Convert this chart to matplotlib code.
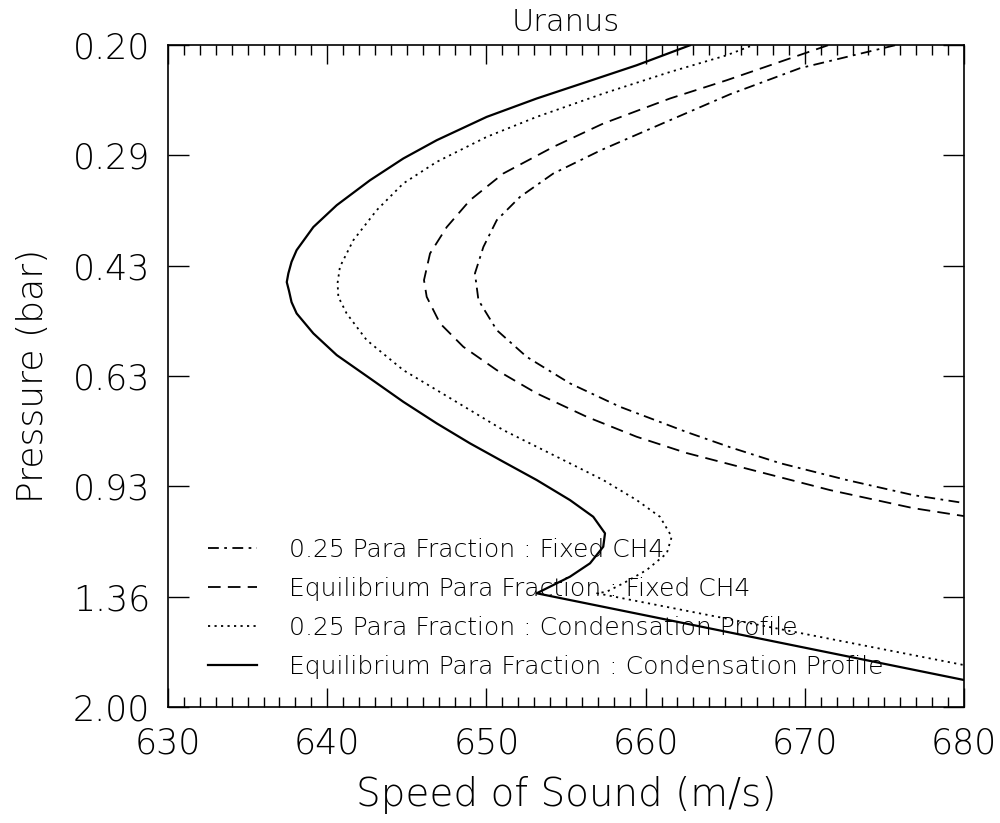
import numpy as np
import matplotlib.pyplot as plt
from matplotlib.ticker import FixedLocator, NullLocator, MultipleLocator

plt.rcParams['font.family'] = ['DejaVu Sans']
plt.rcParams['font.weight'] = 'light'
plt.rcParams['axes.labelweight'] = 'light'
plt.rcParams['axes.titleweight'] = 'light'

# 0.25 para fraction, fixed CH4 (dash-dot)
v_para_ch4 = [675.67, 669.70, 665.30, 661.53, 657.20, 654.20, 652.11, 650.65, 649.81, 649.28,
              649.50, 650.65, 652.53, 655.25, 658.39, 662.58, 665.30, 668.44, 672.65, 676.80, 680.0]
p_para_ch4 = [0.2000, 0.2166, 0.2372, 0.2596, 0.2881, 0.3125, 0.3390, 0.3676, 0.4035, 0.4424,
              0.4855, 0.5389, 0.5914, 0.6487, 0.7037, 0.7684, 0.8100, 0.8562, 0.9081, 0.9568, 0.9836]

# equilibrium para fraction, fixed CH4 (dashed)
v_eq_ch4 = [671.46, 667.63, 665.09, 661.53, 657.34, 654.20, 651.06, 648.97, 647.51, 646.46,
            646.08, 646.25, 647.09, 648.55, 650.65, 653.16, 656.30, 659.44, 662.58, 665.49,
            671.58, 676.80, 680.0]
p_eq_ch4 = [0.2000, 0.2152, 0.2259, 0.2407, 0.2626, 0.2849, 0.3125, 0.3429, 0.3765, 0.4127,
            0.4529, 0.4800, 0.5265, 0.5711, 0.6194, 0.6716, 0.7286, 0.7811, 0.8266, 0.8620,
            0.9403, 1.0012, 1.0294]

# 0.25 para fraction, condensation profile (dotted)
v_para_cond = [666.56, 665.09, 661.53, 657.34, 653.16, 650.02, 646.88, 644.78, 643.11, 641.64,
               640.80, 640.65, 640.70, 641.22, 642.48, 644.78, 646.88, 648.97, 651.06, 653.16,
               655.25, 657.34, 659.44, 660.90, 661.64, 661.33, 660.07, 658.60, 657.56, 656.95,
               680.0]
p_para_cond = [0.2007, 0.2071, 0.2195, 0.2366, 0.2566, 0.2751, 0.3001, 0.3235, 0.3550, 0.3942,
               0.4324, 0.4576, 0.4800, 0.5085, 0.5580, 0.6194, 0.6640, 0.7118, 0.7631, 0.8087,
               0.8568, 0.9080, 0.9736, 1.0318, 1.1060, 1.1718, 1.2418, 1.3006, 1.3391, 1.3466,
               1.7287]

# equilibrium para fraction, condensation profile (solid)
v_eq_cond = [662.79, 659.44, 656.30, 653.16, 650.02, 646.88, 644.78, 642.69, 640.60, 639.13,
             638.08, 637.76, 637.56, 637.46, 637.60, 637.76, 638.08, 639.13, 640.60, 642.69,
             644.78, 646.88, 648.97, 651.06, 653.16, 655.25, 656.71, 657.45, 657.34, 656.51,
             655.25, 653.79, 653.16, 680.0]
p_eq_cond = [0.2000, 0.2144, 0.2272, 0.2407, 0.2566, 0.2783, 0.2966, 0.3199, 0.3489, 0.3765,
             0.4080, 0.4250, 0.4424, 0.4560, 0.4700, 0.4889, 0.5085, 0.5451, 0.5879, 0.6375,
             0.6916, 0.7455, 0.7992, 0.8520, 0.9080, 0.9736, 1.0318, 1.0930, 1.1452, 1.2132,
             1.2711, 1.3234, 1.3466, 1.8209]

p_ticks = [0.20, 0.2928, 0.4309, 0.6325, 0.9283, 1.3626, 2.00]
p_labels = ['0.20', '0.29', '0.43', '0.63', '0.93', '1.36', '2.00']

fig = plt.figure(figsize=(10, 8.23), dpi=100)
ax = fig.add_axes([0.168, 0.141, 0.796, 0.804])

lw = 1.3
ax.plot(v_para_ch4, p_para_ch4, color='black', lw=lw, dashes=(6, 3, 1.5, 3),
        label='0.25 Para Fraction : Fixed CH4')
ax.plot(v_eq_ch4, p_eq_ch4, color='black', lw=lw, dashes=(7, 4),
        label='Equilibrium Para Fraction : Fixed CH4')
ax.plot(v_para_cond, p_para_cond, color='black', lw=lw, dashes=(1.2, 2.4),
        label='0.25 Para Fraction : Condensation Profile')
ax.plot(v_eq_cond, p_eq_cond, color='black', lw=1.6, solid_joinstyle='round',
        label='Equilibrium Para Fraction : Condensation Profile')

ax.set_yscale('log')
ax.set_ylim(2.0, 0.2)
ax.set_xlim(630, 680)
ax.yaxis.set_major_locator(FixedLocator(p_ticks))
ax.yaxis.set_minor_locator(NullLocator())
ax.set_yticklabels(p_labels)
ax.xaxis.set_major_locator(MultipleLocator(10))
ax.xaxis.set_minor_locator(MultipleLocator(1))

ax.tick_params(axis='both', which='both', direction='in', top=True, right=True, color='black')
ax.tick_params(axis='x', which='major', length=14, width=1, pad=14, labelsize=25)
ax.tick_params(axis='x', which='minor', length=7, width=1)
ax.tick_params(axis='y', which='major', length=15, width=1, pad=13, labelsize=25)
for s in ax.spines.values():
    s.set_linewidth(1.2)

ax.set_xlabel('Speed of Sound (m/s)', fontsize=28, labelpad=11)
ax.set_ylabel('Pressure (bar)', fontsize=26, labelpad=16)
ax.set_title('Uranus', fontsize=22, pad=10)

ax.legend(loc='lower left', bbox_to_anchor=(0.025, 0.012), frameon=False, fontsize=18,
          handlelength=1.95, handletextpad=1.3, labelspacing=0.6, borderaxespad=0.4)

fig.savefig('out.png', dpi=100)
